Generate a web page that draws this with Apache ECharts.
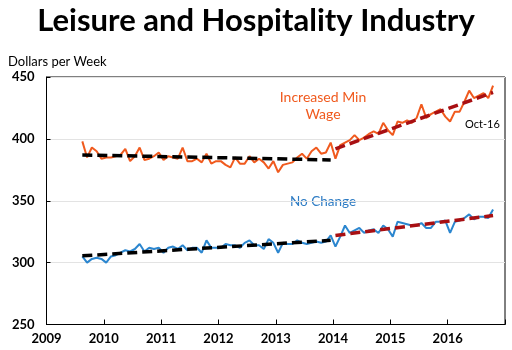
<!DOCTYPE html>
<html>
<head>
<meta charset="utf-8">
<script src="https://cdn.jsdelivr.net/npm/echarts@6/dist/echarts.min.js"></script>
<style>
  html, body { margin: 0; padding: 0; background: #fff; }
  #main { width: 512px; height: 350px; }
</style>
</head>
<body>
<div id="main"></div>
<script>
const chartDom = document.getElementById("main");
const myChart = echarts.init(chartDom);

// monthly values, Aug 2009 .. Oct 2016
const START_YEAR = 2009;
const START_MONTH = 8; // August

const increasedMinWage = [
    398, 385, 393, 390, 384, 385, 385, 386, 387, 392,
    382, 386, 393, 383, 384, 386, 389, 383, 386, 385,
    384, 393, 382, 382, 384, 381, 388, 380, 382, 382,
    379, 377, 385, 380, 380, 386, 381, 384, 381, 376,
    382, 373, 379, 380, 381, 385, 388, 384, 390, 393,
    388, 389, 397, 384, 395, 397, 399, 403, 399, 401,
    404, 406, 404, 413, 407, 403, 414, 413, 415, 413,
    417, 428, 417, 420, 422, 424, 418, 414, 422, 422,
    430, 439, 433, 435, 437, 433, 443,
];

const noChange = [
    305, 300, 303, 304, 303, 300, 305, 306, 308, 310,
    309, 311, 315, 309, 312, 311, 312, 308, 312, 313,
    311, 314, 310, 312, 312, 308, 318, 312, 312, 312,
    315, 314, 314, 312, 316, 318, 314, 314, 311, 319,
    316, 308, 316, 315, 315, 318, 316, 315, 316, 317,
    316, 317, 322, 313, 321, 330, 324, 326, 328, 324,
    326, 327, 324, 330, 327, 321, 333, 332, 331, 330,
    330, 332, 328, 328, 333, 333, 334, 324, 333, 334,
    336, 339, 335, 337, 337, 336, 343,
];

// trend endpoints: [start index, end index, start value, end value]
const minWageTrendBefore = [0, 52, 387, 383];
const minWageTrendAfter = [53, 86, 392, 437.5];
const noChangeTrendBefore = [0, 52, 305.5, 318];
const noChangeTrendAfter = [53, 86, 322, 338];

const yearTicks = [2009, 2010, 2011, 2012, 2013, 2014, 2015, 2016];

const monthX = (i) => START_YEAR + (START_MONTH - 1 + i + 0.5) / 12;

const toPoints = (values) => values.map((v, i) => [monthX(i), v]);
const trendPoints = (t) => [
    [monthX(t[0]), t[2]],
    [monthX(t[1]), t[3]],
];

const FONT = "Lato";

const lineSeries = (name, values, color) => ({
    name: name,
    type: "line",
    data: toPoints(values),
    showSymbol: false,
    symbol: "none",
    lineStyle: { color: color, width: 2 },
    z: 2,
    animation: false,
});

const trendSeries = (points, color) => ({
    type: "line",
    data: trendPoints(points),
    showSymbol: false,
    symbol: "none",
    lineStyle: { color: color, width: 3.5, type: [10, 5] },
    z: 3,
    animation: false,
});

myChart.setOption({
    backgroundColor: "#fff",
    animation: false,
    title: [
        {
            text: "Leisure and Hospitality Industry",
            left: "center",
            top: 0,
            textStyle: { fontFamily: FONT, fontSize: 31, fontWeight: "bold", color: "#000" },
        },
        {
            text: "Dollars per Week",
            left: 8,
            top: 55,
            padding: 0,
            textStyle: { fontFamily: FONT, fontSize: 13, fontWeight: "normal", color: "#000" },
        },
    ],
    grid: {
        left: 46.5,
        right: 7,
        top: 77,
        bottom: 25.5,
        show: true,
        borderColor: "#000",
        borderWidth: 1,
    },
    xAxis: {
        type: "value",
        min: 2009,
        max: 2017,
        interval: 1,
        axisLine: { show: true, lineStyle: { color: "#000" } },
        axisTick: { show: true, inside: true, length: 5, lineStyle: { color: "#000" } },
        splitLine: { show: false },
        axisLabel: {
            color: "#000",
            fontFamily: FONT,
            fontSize: 13,
            fontWeight: "bold",
            margin: 8,
            formatter: (v) => (yearTicks.includes(v) ? String(v) : ""),
        },
    },
    yAxis: {
        type: "value",
        min: 250,
        max: 450,
        interval: 50,
        axisLine: { show: true, lineStyle: { color: "#000" } },
        axisTick: { show: true, inside: true, length: 4, lineStyle: { color: "#000" } },
        splitLine: { show: true, lineStyle: { color: "#e3e3e3", width: 1 } },
        axisLabel: {
            color: "#000",
            fontFamily: FONT,
            fontSize: 13,
            fontWeight: "bold",
            margin: 12,
        },
    },
    graphic: [
        {
            type: "text",
            style: {
                x: 323,
                y: 89,
                text: "Increased Min\nWage",
                fill: "#F05A1E",
                font: "14px " + FONT,
                align: "center",
                lineHeight: 17,
            },
        },
        {
            type: "text",
            style: {
                x: 323,
                y: 195,
                text: "No Change",
                fill: "#2E7CC4",
                font: "13.5px " + FONT,
                align: "center",
            },
        },
        {
            type: "text",
            style: { x: 465, y: 119, text: "Oct-16", fill: "#000", font: "11px " + FONT },
        },
    ],
    series: [
        lineSeries("Increased Min Wage", increasedMinWage, "#F05A1E"),
        lineSeries("No Change", noChange, "#2B86CF"),
        trendSeries(minWageTrendBefore, "#000"),
        trendSeries(minWageTrendAfter, "#A80F12"),
        trendSeries(noChangeTrendBefore, "#000"),
        trendSeries(noChangeTrendAfter, "#A80F12"),
    ],
});
</script>
</body>
</html>
